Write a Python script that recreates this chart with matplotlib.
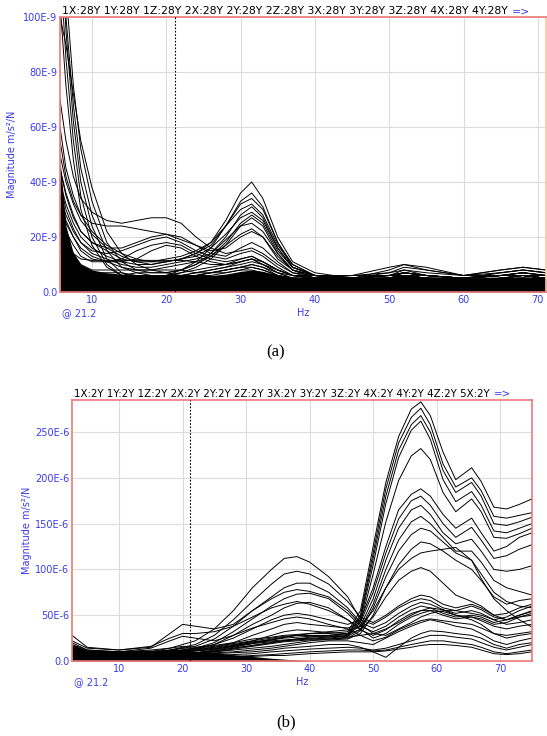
import matplotlib
matplotlib.use("Agg")
import matplotlib.pyplot as plt

# ---------------- panel (a) data, magnitude in 1E-9 m/s^2/N ----------------
freq_a = [5.7, 6.5, 7.5, 8.5, 10, 12, 14, 16, 18, 20, 22, 24, 26, 28, 30, 31.5,
          33, 35, 37, 40, 45, 50, 52, 55, 60, 65, 68, 71.1]

steep_a = [
    [160, 110, 75, 52, 33, 18, 11, 8, 7, 7, 8, 10, 13, 18, 25, 28, 25, 15, 9, 6, 5, 5, 6, 5, 5, 6, 6, 5],
    [150, 100, 68, 45, 28, 15, 9, 7, 6, 6, 7, 9, 12, 17, 24, 27, 24, 14, 8, 5, 4.5, 5, 6, 5, 4, 5, 5, 4],
    [140, 95, 62, 40, 24, 12, 7, 5, 5, 6, 8, 10, 14, 20, 28, 31, 27, 16, 9, 6, 5, 5, 7, 6, 5, 6, 7, 6],
    [120, 85, 55, 35, 20, 10, 6, 5, 5, 5, 6, 7, 8, 9, 11, 12, 10, 7, 5, 4, 4, 5, 6, 5, 4, 5, 6, 5],
    [105, 75, 48, 30, 17, 9, 6, 5, 4, 4, 5, 6, 7, 8, 9, 10, 9, 6, 5, 4, 4, 4, 5, 4, 4, 4, 5, 4],
    [100, 90, 72, 55, 38, 22, 14, 10, 8, 7, 8, 11, 16, 24, 33, 36, 31, 18, 9, 6, 5, 6, 7, 6, 5, 6, 6, 5],
]
peak31_a = [
    [60, 45, 35, 28, 22, 17, 14, 12, 11, 11, 12, 14, 18, 26, 36, 40, 34, 20, 11, 7, 5, 6, 7, 6, 5, 6, 7, 6],
    [50, 40, 32, 26, 21, 16, 13, 11, 10, 11, 12, 14, 17, 24, 32, 34, 30, 18, 10, 6, 5, 5, 6, 5, 5, 6, 6, 5],
    [45, 36, 28, 22, 18, 15, 12, 11, 11, 12, 13, 15, 18, 24, 30, 32, 28, 17, 10, 6, 5, 6, 7, 6, 5, 5, 6, 5],
    [40, 32, 25, 20, 16, 13, 11, 10, 10, 11, 12, 13, 16, 21, 27, 29, 26, 16, 9, 6, 5, 5, 6, 5, 5, 5, 6, 5],
    [35, 28, 22, 18, 14, 12, 10, 9, 9, 10, 11, 12, 14, 19, 24, 25, 22, 14, 8, 6, 5, 5, 6, 5, 4, 5, 5, 5],
    [30, 25, 20, 16, 13, 11, 9, 8, 8, 9, 10, 11, 13, 17, 21, 23, 20, 12, 8, 5, 5, 5, 6, 5, 4, 5, 5, 5],
]
hump20_a = [
    [70, 55, 42, 34, 29, 26, 25, 26, 27, 27, 25, 20, 16, 14, 15, 16, 14, 10, 7, 6, 5, 6, 8, 6, 5, 7, 8, 7],
    [55, 42, 33, 28, 25, 24, 24, 23, 22, 21, 19, 17, 15, 16, 20, 22, 20, 13, 8, 6, 5, 6, 7, 6, 5, 6, 7, 6],
    [45, 35, 27, 22, 18, 16, 16, 18, 20, 21, 20, 17, 14, 13, 16, 18, 16, 11, 7, 5, 5, 5, 7, 6, 5, 6, 7, 6],
    [40, 30, 23, 18, 15, 14, 15, 17, 19, 20, 18, 15, 13, 12, 14, 15, 13, 9, 6, 5, 4, 5, 6, 5, 5, 6, 6, 5],
    [35, 26, 20, 15, 12, 11, 12, 15, 17, 18, 17, 14, 12, 11, 12, 13, 11, 8, 6, 5, 4, 5, 6, 5, 4, 5, 6, 5],
    [30, 22, 17, 13, 11, 11, 11, 12, 15, 17, 16, 13, 11, 10, 11, 12, 10, 8, 6, 5, 4, 5, 6, 5, 4, 5, 6, 5],
    [25, 18, 14, 12, 11.5, 11.5, 11.5, 11.5, 11.5, 11.5, 11.5, 11, 10, 10, 11, 12, 11, 8, 6, 5, 4, 5, 6, 5, 4, 5, 5, 5],
]
low_a = [
    [22, 15, 11, 9, 7, 6, 6, 6, 6, 6, 7, 8, 9, 10, 12, 13, 11, 8, 6, 5, 5, 7, 9, 8, 6, 7, 8, 7],
    [18, 12, 9, 7, 6, 5, 5, 5, 5, 5, 6, 7, 8, 9, 10, 11, 10, 7, 5, 5, 5, 8, 10, 9, 6, 8, 9, 8],
    [15, 10, 8, 6, 5, 4, 4, 4, 4, 5, 5, 6, 7, 7, 8, 9, 8, 6, 5, 5, 6, 9, 10, 8, 6, 8, 9, 8],
    [12, 9, 7, 6, 5, 5, 6, 7, 7, 7, 6, 6, 6, 7, 8, 8, 7, 6, 5, 5, 5, 6, 7, 6, 5, 7, 8, 7],
    [28, 20, 14, 10, 8, 8, 8, 8, 8, 8, 8, 7, 7, 8, 9, 10, 9, 7, 6, 6, 6, 7, 8, 7, 6, 6, 7, 6],
    [10, 8, 7, 7, 7, 7, 7, 6, 6, 6, 6, 6, 7, 8, 9, 9, 8, 6, 5, 5, 6, 6, 6, 6, 5, 6, 6, 6],
]
band_a = [48, 24, 14, 10, 8, 7, 6.5, 6, 6, 6, 6, 6, 6, 6.5, 7.5, 8, 7.5, 6, 5.5, 5,
          5, 5.5, 6, 5.5, 5, 5, 5.5, 5]

# ---------------- panel (b) data, magnitude in 1E-6 m/s^2/N ----------------
freq_b = [2.6, 5, 10, 15, 18, 20, 22, 25, 28, 31, 34, 36, 38, 40, 43, 46, 48, 50,
          52, 54, 56, 57.5, 59, 61, 63, 65.5, 67, 69, 71, 73, 75]

top_b = [
    [18, 12, 10, 12, 14, 16, 15, 17, 20, 24, 26, 28, 29, 30, 30, 32, 55, 125, 195, 245, 275, 283, 268, 228, 198, 211, 196, 168, 166, 171, 177],
    [14, 9, 8, 10, 12, 14, 14, 16, 19, 22, 25, 27, 28, 28, 28, 30, 50, 118, 188, 238, 266, 276, 258, 215, 190, 200, 186, 158, 156, 159, 162],
    [12, 8, 7, 9, 11, 12, 13, 15, 18, 21, 23, 25, 26, 27, 27, 29, 48, 112, 180, 230, 258, 268, 250, 208, 184, 195, 180, 150, 148, 152, 157],
    [10, 7, 6, 8, 10, 11, 12, 14, 17, 20, 22, 23, 24, 25, 26, 28, 45, 105, 172, 222, 252, 262, 242, 198, 174, 185, 170, 142, 140, 145, 150],
    [9, 6, 5, 7, 9, 10, 11, 13, 16, 19, 21, 22, 23, 24, 25, 27, 42, 95, 152, 197, 224, 232, 220, 184, 163, 177, 163, 135, 134, 139, 145],
]
mid_b = [
    [8, 6, 6, 8, 10, 12, 14, 18, 25, 35, 45, 50, 52, 50, 45, 40, 45, 80, 125, 165, 182, 188, 180, 160, 145, 156, 140, 120, 125, 135, 140],
    [7, 5, 5, 7, 9, 11, 12, 15, 20, 28, 35, 40, 42, 40, 38, 36, 42, 75, 118, 155, 175, 180, 170, 150, 135, 146, 132, 112, 115, 122, 127],
    [6, 5, 4, 6, 8, 10, 11, 13, 17, 22, 28, 32, 34, 33, 31, 30, 38, 68, 110, 145, 165, 170, 160, 140, 128, 133, 120, 100, 98, 100, 104],
    [6, 4, 4, 6, 7, 8, 9, 12, 15, 19, 23, 26, 28, 28, 27, 27, 35, 62, 100, 132, 152, 158, 150, 135, 120, 120, 108, 88, 80, 76, 72],
    [5, 4, 4, 5, 7, 8, 9, 11, 14, 17, 20, 22, 24, 24, 24, 25, 33, 58, 92, 120, 138, 145, 142, 130, 118, 110, 95, 75, 65, 60, 58],
    [5, 4, 3, 5, 6, 7, 8, 10, 13, 16, 19, 21, 22, 23, 23, 24, 30, 50, 80, 105, 122, 130, 128, 120, 110, 100, 88, 70, 62, 66, 68],
    [9, 6, 5, 6, 8, 10, 11, 13, 16, 20, 24, 26, 28, 30, 32, 34, 38, 55, 80, 100, 112, 118, 120, 122, 124, 110, 90, 68, 55, 45, 37],
    [7, 5, 4, 5, 7, 8, 9, 11, 14, 17, 20, 22, 24, 26, 28, 30, 34, 48, 70, 88, 98, 102, 98, 85, 72, 65, 60, 50, 45, 48, 50],
]
hump36_b = [
    [10, 8, 8, 10, 14, 18, 22, 35, 55, 80, 100, 112, 114, 108, 92, 70, 45, 40, 48, 58, 65, 68, 66, 58, 55, 60, 56, 48, 45, 50, 55],
    [9, 7, 7, 9, 12, 15, 18, 28, 45, 65, 84, 95, 98, 95, 84, 65, 48, 42, 50, 60, 68, 72, 70, 62, 58, 62, 58, 50, 52, 58, 62],
    [8, 6, 6, 8, 11, 14, 16, 24, 38, 55, 70, 80, 85, 85, 75, 58, 42, 36, 42, 52, 60, 64, 62, 56, 52, 55, 52, 45, 48, 55, 60],
    [8, 6, 6, 8, 10, 12, 14, 20, 32, 46, 60, 68, 73, 74, 68, 52, 38, 32, 38, 48, 56, 60, 58, 52, 48, 50, 48, 42, 45, 50, 54],
    [7, 5, 5, 7, 9, 11, 13, 18, 28, 40, 50, 58, 63, 64, 58, 45, 34, 28, 34, 44, 52, 55, 55, 50, 46, 48, 46, 40, 42, 48, 52],
]
hump20_b = [
    [28, 15, 12, 15, 30, 40, 38, 35, 40, 55, 68, 75, 78, 76, 70, 55, 40, 30, 28, 35, 42, 48, 52, 55, 55, 52, 50, 45, 40, 42, 45],
    [22, 14, 12, 16, 25, 30, 30, 32, 38, 48, 58, 62, 65, 62, 55, 45, 35, 25, 30, 40, 48, 52, 55, 54, 50, 48, 44, 38, 35, 38, 40],
    [20, 12, 10, 14, 22, 27, 25, 22, 28, 36, 42, 46, 48, 46, 40, 35, 28, 22, 26, 34, 40, 44, 46, 44, 42, 40, 36, 30, 28, 30, 32],
]
low_b = [
    [15, 8, 5, 6, 7, 8, 9, 10, 12, 14, 16, 18, 20, 22, 24, 26, 28, 30, 35, 42, 50, 55, 58, 56, 50, 45, 40, 30, 25, 28, 30],
    [12, 6, 4, 5, 6, 7, 8, 9, 10, 12, 14, 16, 18, 20, 22, 22, 20, 18, 25, 32, 38, 42, 45, 42, 38, 35, 30, 22, 18, 22, 25],
    [10, 5, 3, 4, 5, 6, 7, 8, 9, 10, 12, 14, 15, 16, 18, 18, 15, 10, 4, 15, 25, 30, 33, 32, 30, 28, 25, 18, 14, 18, 20],
    [8, 4, 3, 3, 4, 5, 6, 6, 7, 8, 10, 11, 12, 13, 14, 15, 14, 12, 14, 18, 22, 25, 28, 28, 26, 24, 20, 15, 12, 15, 18],
    [6, 3, 2, 2, 3, 3, 4, 5, 5, 6, 7, 8, 9, 10, 11, 12, 12, 11, 12, 15, 18, 20, 22, 22, 20, 18, 15, 10, 8, 10, 12],
    [5, 3, 2, 2, 2, 3, 3, 4, 4, 5, 6, 6, 7, 8, 9, 10, 10, 10, 11, 13, 15, 17, 18, 18, 17, 15, 12, 8, 7, 8, 10],
]
band_b = [18, 12, 11, 12, 12, 11, 10, 9, 7, 5, 3, 2, 1, 0, 0, 0, 0, 0, 0, 0, 0, 0,
          0, 0, 0, 0, 0, 0, 0, 0, 0]

# ---------------- labels ----------------
xticks = [10, 20, 30, 40, 50, 60, 70]
yticks_a = [0, 20, 40, 60, 80, 100]
ylabels_a = ["0.0", "20E-9", "40E-9", "60E-9", "80E-9", "100E-9"]
yticks_b = [0, 50, 100, 150, 200, 250]
ylabels_b = ["0.0", "50E-6", "100E-6", "150E-6", "200E-6", "250E-6"]
header_a = " ".join(f"{p}:28Y" for p in ["1X", "1Y", "1Z", "2X", "2Y", "2Z", "3X", "3Y", "3Z", "4X", "4Y"])
header_b = " ".join(f"{p}:2Y" for p in ["1X", "1Y", "1Z", "2X", "2Y", "2Z", "3X", "3Y", "3Z", "4X", "4Y", "4Z", "5X"])
cursor = 21.2

blue = "#3b3bf0"
W, H = 547, 736
fig = plt.figure(figsize=(W / 100, H / 100), dpi=100)


def setup(ax, xlim, ylim, yticks, ylabels, header, hsize, right_col):
    ax.set_xlim(*xlim)
    ax.set_ylim(*ylim)
    ax.set_xticks(xticks)
    ax.set_yticks(yticks)
    ax.set_yticklabels(ylabels)
    ax.tick_params(length=0, labelsize=7, labelcolor=blue, pad=2)
    ax.grid(True, color="#dcdcdc", lw=0.8)
    ax.set_axisbelow(True)
    for s in ["left", "top", "bottom"]:
        ax.spines[s].set_color("#f07878")
        ax.spines[s].set_linewidth(1.2)
    ax.spines["right"].set_color(right_col)
    ax.spines["right"].set_linewidth(1.2)
    ax.axvline(cursor, color="black", ls=(0, (1.5, 1.5)), lw=0.8, zorder=5)
    t = ax.annotate(header, xy=(0, 1), xycoords="axes fraction", xytext=(2, 1),
                    textcoords="offset pixels", va="bottom", ha="left", fontsize=hsize)
    ax.annotate("=>", xy=(1, 0), xycoords=t, xytext=(4, 0), textcoords="offset pixels",
                va="bottom", ha="left", fontsize=hsize, color=blue)
    ax.annotate("Hz", xy=(0.5, 0), xycoords="axes fraction", xytext=(0, -21),
                textcoords="offset pixels", va="center", ha="center", fontsize=7, color=blue)
    ax.annotate("@ 21.2", xy=(0, 0), xycoords="axes fraction", xytext=(2, -21),
                textcoords="offset pixels", va="center", ha="left", fontsize=7, color=blue)


# panel (a)
ax_a = fig.add_axes([60 / W, 1 - 292 / H, 486 / W, 275 / H])
setup(ax_a, (5.7, 71.1), (0, 100), yticks_a, ylabels_a, header_a, 7.8, "#f8c8a0")
ax_a.fill_between(freq_a, 0, band_a, color="black", lw=0)
for group in (low_a, hump20_a, peak31_a, steep_a):
    for vals in group:
        ax_a.plot(freq_a, vals, color="black", lw=0.7)

# panel (b)
ax_b = fig.add_axes([72 / W, 1 - 661 / H, 460 / W, 261 / H])
setup(ax_b, (2.6, 75.0), (0, 285), yticks_b, ylabels_b, header_b, 7.4, "#f07878")
ax_b.fill_between(freq_b, 0, band_b, color="black", lw=0)
for group in (low_b, hump20_b, hump36_b, mid_b, top_b):
    for vals in group:
        ax_b.plot(freq_b, vals, color="black", lw=0.7)

# y labels and captions
fig.text(12 / W, 1 - 154 / H, "Magnitude m/s²/N", rotation=90, ha="center", va="center",
         fontsize=7, color=blue)
fig.text(27 / W, 1 - 530 / H, "Magnitude m/s²/N", rotation=90, ha="center", va="center",
         fontsize=7, color=blue)
fig.text(276 / W, 1 - 352 / H, "(a)", ha="center", va="center", fontsize=12,
         family="Liberation Serif")
fig.text(286 / W, 1 - 722 / H, "(b)", ha="center", va="center", fontsize=12,
         family="Liberation Serif")

fig.savefig("out.png", dpi=100)
